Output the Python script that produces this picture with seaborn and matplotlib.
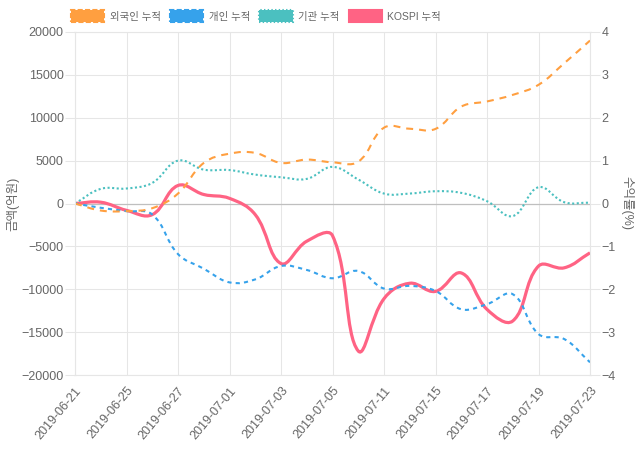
import numpy as np
import matplotlib
matplotlib.use("Agg")
import matplotlib.pyplot as plt
import matplotlib.patches as patches
from matplotlib.path import Path
import seaborn as sns

dates = ['2019-06-21', '2019-06-24', '2019-06-25', '2019-06-26', '2019-06-27', '2019-06-28',
         '2019-07-01', '2019-07-02', '2019-07-03', '2019-07-04', '2019-07-05', '2019-07-10',
         '2019-07-11', '2019-07-12', '2019-07-15', '2019-07-16', '2019-07-17', '2019-07-18',
         '2019-07-19', '2019-07-22', '2019-07-23']
foreign = [0, -820, -890, -550, 1160, 4730, 5810, 5900, 4730, 5120, 4800, 4880,
           8840, 8720, 8700, 11300, 11900, 12670, 13840, 16360, 19000]
individual = [0, -500, -890, -1280, -5900, -7600, -9200, -8850, -7290, -7750, -8720, -7870,
              -9920, -9610, -10200, -12330, -11740, -10580, -15230, -15810, -18520]
institution = [0, 1710, 1750, 2400, 5000, 3950, 3900, 3370, 3060, 2870, 4270, 2800,
               1160, 1160, 1430, 1240, 270, -1470, 1900, 150, 100]
kospi = [0, 0.03, -0.16, -0.26, 0.42, 0.21, 0.12, -0.26, -1.40, -0.88, -0.75, -3.44,
         -2.22, -1.86, -2.05, -1.62, -2.47, -2.74, -1.46, -1.50, -1.15]
labels = ['외국인 누적', '개인 누적', '기관 누적', 'KOSPI 누적']
colors = ['#FF9F40', '#36A2EB', '#4BC0C0', '#FF6384']

sns.set_theme(style='white')
plt.rcParams['font.family'] = ['Liberation Sans', 'Noto Sans CJK KR', 'DejaVu Sans']
plt.rcParams['lines.scale_dashes'] = False
txt = '#666666'
grid = '#e6e6e6'


def spline_patch(ax, ys, color, lw, ls, t=0.4):
    # chart.js style bezier through the points, computed in pixel space
    xs = np.arange(len(ys))
    pts = ax.transData.transform(np.column_stack([xs, ys]))
    n = len(pts)
    prev_c, next_c = [], []
    for i in range(n):
        p0 = pts[max(i - 1, 0)]
        p1 = pts[i]
        p2 = pts[min(i + 1, n - 1)]
        d01 = np.hypot(*(p1 - p0))
        d12 = np.hypot(*(p2 - p1))
        tot = d01 + d12
        s01 = d01 / tot if tot else 0
        s12 = d12 / tot if tot else 0
        prev_c.append(p1 - t * s01 * (p2 - p0))
        next_c.append(p1 + t * s12 * (p2 - p0))
    verts = [pts[0]]
    codes = [Path.MOVETO]
    for i in range(n - 1):
        verts += [next_c[i], prev_c[i + 1], pts[i + 1]]
        codes += [Path.CURVE4] * 3
    verts = ax.transData.inverted().transform(np.array(verts))
    p = patches.PathPatch(Path(verts, codes), fill=False, edgecolor=color,
                          lw=lw, linestyle=ls, capstyle='butt', joinstyle='round')
    ax.add_patch(p)


fig = plt.figure(figsize=(6.4, 4.5), dpi=100)
ax2 = fig.add_axes([75 / 640, 75 / 450, 515 / 640, 343 / 450])
ax = ax2.twinx()
ax2.yaxis.tick_right()
ax2.yaxis.set_label_position('right')
ax.yaxis.tick_left()
ax.yaxis.set_label_position('left')
ax.set_zorder(ax2.get_zorder() + 1)
ax.patch.set_visible(False)

ax2.set_xlim(0, len(dates) - 1)
ax.set_ylim(-20000, 20000)
ax2.set_ylim(-4, 4)

ax.set_yticks(np.arange(-20000, 20001, 5000))
ax2.set_yticks(np.arange(-4, 5, 1))
ax2.set_xticks(np.arange(0, len(dates), 2))
ax2.set_xticklabels(dates[::2], rotation=50, ha='right', rotation_mode='anchor')
ax.tick_params(axis='x', bottom=False, labelbottom=False, top=False, labeltop=False)

ax2.grid(True, color=grid, lw=0.75)
ax2.axhline(0, color='#bfbfbf', lw=0.9, zorder=1)
for a in (ax, ax2):
    for s in a.spines.values():
        s.set_color(grid)
        s.set_linewidth(0.75)

ax.tick_params(axis='y', length=7.2, width=0.75, color=grid, labelcolor=txt, labelsize=9, pad=1)
ax2.tick_params(axis='y', length=7.2, width=0.75, color=grid, labelcolor=txt, labelsize=9, pad=1,
                left=False, right=True)
ax2.tick_params(axis='x', length=5, width=0.75, color=grid, labelcolor=txt, labelsize=9, pad=2)

ax.set_ylabel('금액(억원)', color=txt, fontsize=9, rotation=90, va='center', ha='center')
ax.yaxis.set_label_coords(-0.12, 0.5)
ax2.set_ylabel('수익률(%)', color=txt, fontsize=9, rotation=270, va='center', ha='center')
ax2.yaxis.set_label_coords(1.072, 0.5)

fig.canvas.draw()
spline_patch(ax2, kospi, colors[3], 2.3, '-')
spline_patch(ax, institution, colors[2], 1.5, (0, (1.5, 1.8)))
spline_patch(ax, individual, colors[1], 1.5, (0, (3, 3)))
spline_patch(ax, foreign, colors[0], 1.5, (0, (5, 4.3)))

styles = ['--', '--', ':', '-']
handles = [patches.Patch(facecolor=c, edgecolor=c, linestyle=s, linewidth=1.5, label=l)
           for c, s, l in zip(colors, styles, labels)]
fig.legend(handles=handles, loc='center', bbox_to_anchor=(256 / 640, 1 - 16 / 450),
           ncol=4, frameon=False, fontsize=7.5, handlelength=3.2, handleheight=1.25,
           handletextpad=0.5, columnspacing=0.9, labelcolor=txt)

fig.savefig('out.png', dpi=100)
